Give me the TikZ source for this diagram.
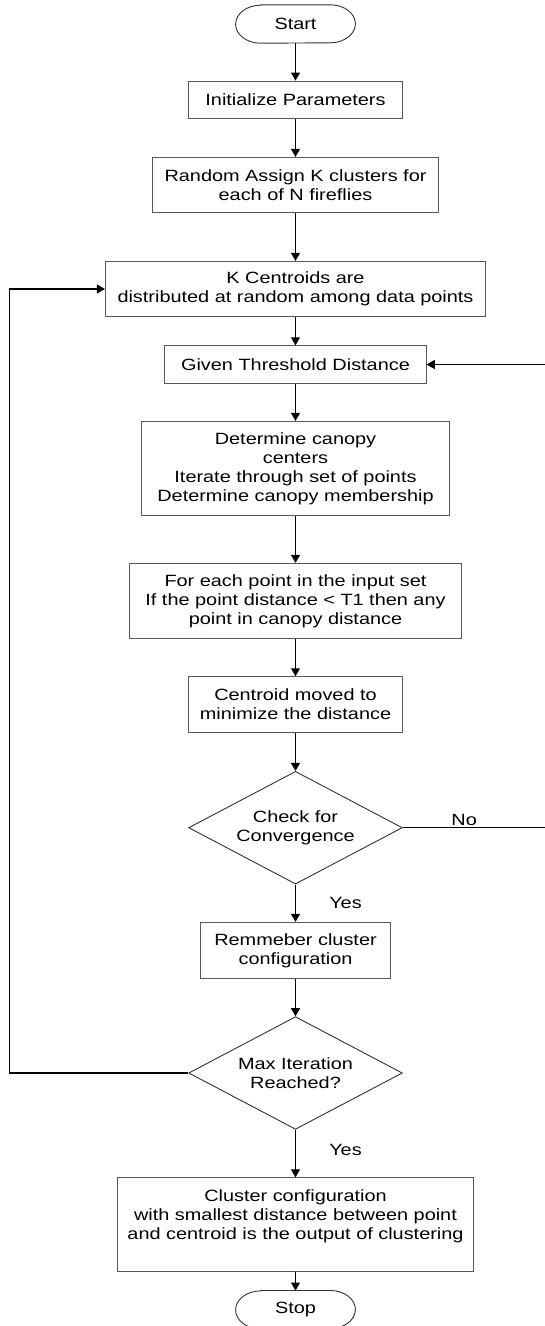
\documentclass[tikz,border=0pt]{standalone}
\usepackage{fontspec}
\setmainfont{Liberation Sans}[FakeStretch=1.22]
\usetikzlibrary{arrows.meta,shapes.geometric}

\begin{document}
\begin{tikzpicture}[x=1pt,y=-1pt,
  every node/.style={font=\fontsize{16.3pt}{19pt}\selectfont, align=center, inner sep=0pt},
  box/.style={draw=black!65, line width=0.9pt, rectangle},
  term/.style={rectangle, minimum width=119.4pt, minimum height=38pt},
  termline/.style={draw=black!80, line width=0.9pt},
  decision/.style={draw=black!80, line width=0.9pt, diamond, aspect=1.9,
                   minimum width=213.7pt, minimum height=112.7pt},
  arr/.style={draw=black, line width=1.1pt, -{Triangle[length=8pt,width=9pt]}},
  lbl/.style={inner sep=0pt}
]
\useasboundingbox (0,0) rectangle (544,1326);

% process steps
\node[term] (start) at (295.5,24) {Start};
\node[box, minimum width=214.1pt, minimum height=37.7pt] (init) at (295.5,99.9) {Initialize Parameters};
\node[box, minimum width=285.5pt, minimum height=55.4pt] (rand) at (295.5,185) {Random Assign K clusters for\\each of N fireflies};
\node[box, minimum width=380.3pt, minimum height=55.4pt] (kcent) at (295.5,289) {K Centroids are\\distributed at random among data points};
\node[box, minimum width=261.6pt, minimum height=37.6pt] (given) at (295.5,364.5) {Given Threshold Distance};
\node[box, minimum width=308.5pt, minimum height=94pt] (canopy) at (295.5,468.3) {Determine canopy\\centers\\Iterate through set of points\\Determine canopy membership};
\node[box, minimum width=332.4pt, minimum height=75pt] (foreach) at (295.5,600.8) {For each point in the input set\\If the point distance < T1 then any\\point in canopy distance};
\node[box, minimum width=213.7pt, minimum height=55.6pt] (move) at (295.5,704.5) {Centroid moved to\\minimize the distance};
\node[decision] (check) at (295.5,827.7) {Check for\\Convergence};
\node[box, minimum width=189.8pt, minimum height=56pt] (rem) at (295.5,950.3) {Remmeber cluster\\configuration};
\node[decision] (max) at (295.5,1073) {Max Iteration\\Reached?};
\node[box, minimum width=356.3pt, minimum height=93.3pt] (clus) at (295.5,1224.4) {Cluster configuration\\with smallest distance between point\\and centroid is the output of clustering\\\mbox{}};
\node[term] (stop) at (295.5,1309.7) {Stop};

% terminal outlines with elliptic ends
\foreach \t in {start,stop}{
  \draw[termline] ([xshift=25pt]\t.north west) -- ([xshift=-25pt]\t.north east)
    arc[start angle=90,end angle=-90,x radius=25pt,y radius=19pt]
    -- ([xshift=25pt]\t.south west)
    arc[start angle=270,end angle=90,x radius=25pt,y radius=19pt] -- cycle;
}

% main flow
\draw[arr] (start) -- (init);
\draw[arr] (init) -- (rand);
\draw[arr] (rand) -- (kcent);
\draw[arr] (kcent) -- (given);
\draw[arr] (given) -- (canopy);
\draw[arr] (canopy) -- (foreach);
\draw[arr] (foreach) -- (move);
\draw[arr] (move) -- (check);
\draw[arr] (check) -- node[lbl, xshift=50pt] {Yes} (rem);
\draw[arr] (rem) -- (max);
\draw[arr] (max) -- node[lbl, xshift=50pt, yshift=3.5pt] {Yes} (clus);
\draw[arr] (clus) -- (stop);

% feedback loops
\coordinate (noR) at (545.5,827.7);
\coordinate (noT) at (545.5,364.5);
\draw[arr] (check.east) -- node[lbl, pos=0.43, anchor=base, yshift=2.6pt] {No} (noR) -- (noT) -- (given.east);
\coordinate (mxL) at (9.7,1073);
\coordinate (mxT) at (9.7,289);
\draw[arr] (max.west) -- (mxL) -- (mxT) -- (kcent.west);
\end{tikzpicture}
\end{document}
